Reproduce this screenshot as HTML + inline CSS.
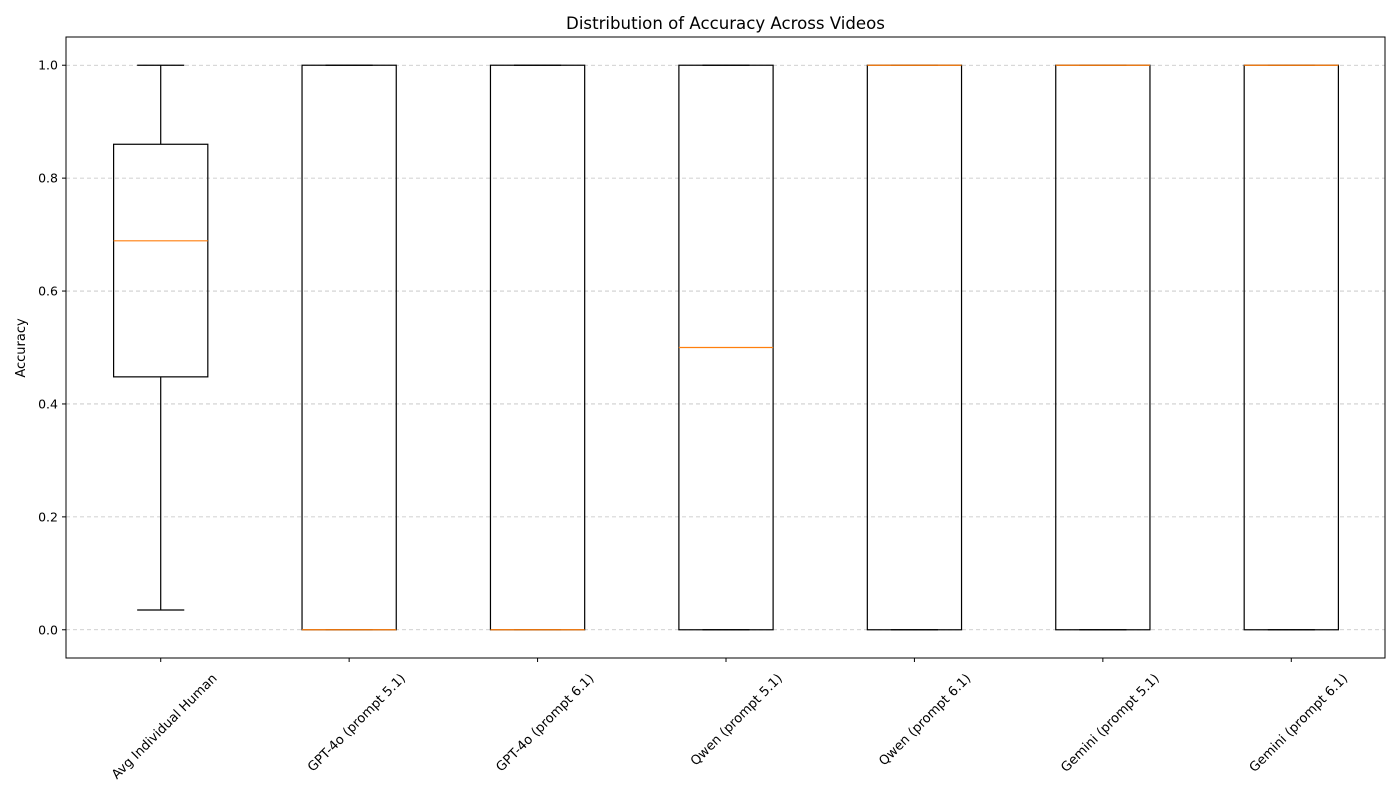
<!DOCTYPE html>
<html><head><meta charset="utf-8"><style>
html,body{margin:0;padding:0;background:#fff;}
svg{display:block;font-family:"DejaVu Sans","Liberation Sans",sans-serif;}
</style></head><body>
<svg id="chart" width="1400" height="800"></svg>
<script>
const categories=["Avg Individual Human","GPT-4o (prompt 5.1)","GPT-4o (prompt 6.1)","Qwen (prompt 5.1)","Qwen (prompt 6.1)","Gemini (prompt 5.1)","Gemini (prompt 6.1)"];
const whiskerLow=[0.035,0,0,0,0,0,0];
const q1=[0.448,0,0,0,0,0,0];
const median=[0.689,0,0,0.5,1,1,1];
const q3=[0.860,1,1,1,1,1,1];
const whiskerHigh=[1,1,1,1,1,1,1];
const yTicks=[0,0.2,0.4,0.6,0.8,1.0];
const yTickLabels=["0.0","0.2","0.4","0.6","0.8","1.0"];

const NS="http://www.w3.org/2000/svg";
const svg=document.getElementById('chart');
const L=66,R=1385,T=37,B=658;
const yMin=-0.05,yMax=1.05;
const y=v=>B-(v-yMin)/(yMax-yMin)*(B-T);
const x=i=>L+(i+0.5)*(R-L)/categories.length+0.5;
const step=(R-L)/categories.length;
function el(tag,attrs,parent){const e=document.createElementNS(NS,tag);for(const k in attrs)e.setAttribute(k,attrs[k]);(parent||svg).appendChild(e);return e;}

yTicks.forEach((v,i)=>{
  const g=el('line',{x1:L,x2:R,y1:y(v),y2:y(v),stroke:'#b0b0b0','stroke-width':0.8,'stroke-dasharray':'4,3','stroke-opacity':0.8});
  
  
  const t=el('line',{x1:L-4,x2:L,y1:y(v),y2:y(v),stroke:'#000','stroke-width':1});
  
  
  const tx=el('text',{x:L-8,y:y(v)+4.5,'text-anchor':'end','font-size':12.5,fill:'#000'});
  tx.textContent=yTickLabels[i];
  
  
});

categories.forEach((c,i)=>{
  const cx=x(i),hw=step*0.25,cw=step*0.125;
  const g=el('g',{});
  
  
  el('line',{x1:cx,x2:cx,y1:y(whiskerLow[i]),y2:y(q1[i]),stroke:'#000','stroke-width':1.2},g);
  el('line',{x1:cx,x2:cx,y1:y(q3[i]),y2:y(whiskerHigh[i]),stroke:'#000','stroke-width':1.2},g);
  el('line',{x1:cx-cw,x2:cx+cw,y1:y(whiskerLow[i]),y2:y(whiskerLow[i]),stroke:'#000','stroke-width':1.2},g);
  el('line',{x1:cx-cw,x2:cx+cw,y1:y(whiskerHigh[i]),y2:y(whiskerHigh[i]),stroke:'#000','stroke-width':1.2},g);
  el('rect',{x:cx-hw,y:y(q3[i]),width:2*hw,height:y(q1[i])-y(q3[i]),fill:'none',stroke:'#000','stroke-width':1.2},g);
  el('line',{x1:cx-hw,x2:cx+hw,y1:y(median[i]),y2:y(median[i]),stroke:'#ff7f0e','stroke-width':1.2},g);
  const t=el('line',{x1:cx,x2:cx,y1:B,y2:B+4,stroke:'#000','stroke-width':1});
  
  
  const ax=cx+57,ay=679;
  const tx=el('text',{x:ax,y:ay,'text-anchor':'end','font-size':13,fill:'#000',transform:`rotate(-45 ${ax} ${ay})`});
  tx.textContent=c;
  
  
});

const frame=el('rect',{x:L,y:T,width:R-L,height:B-T,fill:'none',stroke:'#000','stroke-width':1});


const title=el('text',{x:(L+R)/2,y:29,'text-anchor':'middle','font-size':16.6,fill:'#000'});
title.textContent='Distribution of Accuracy Across Videos';


const yl=el('text',{x:25,y:348,'text-anchor':'middle','font-size':13,fill:'#000',transform:'rotate(-90 25 348)'});
yl.textContent='Accuracy';


</script>
</body></html>
